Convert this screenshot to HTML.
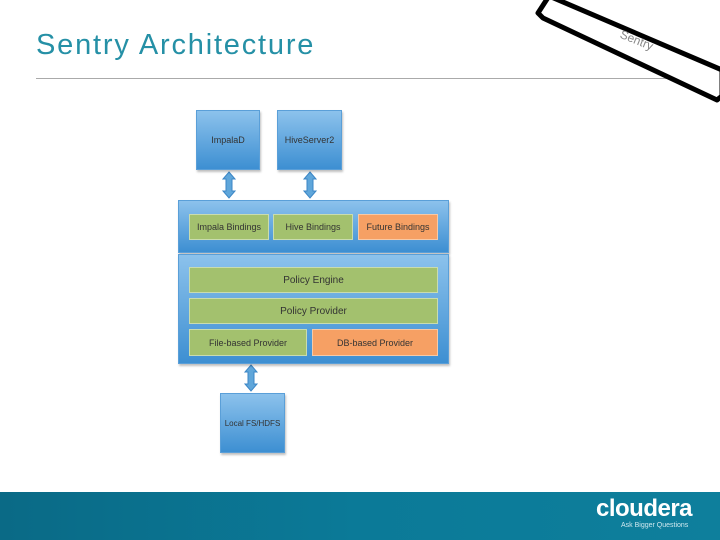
<!DOCTYPE html>
<html><head><meta charset="utf-8"><style>
body{margin:0;width:720px;height:540px;position:relative;overflow:hidden;background:#fff;font-family:"Liberation Sans",sans-serif}
.a{position:absolute;box-sizing:border-box}
.blue{background:linear-gradient(#8cc2ec,#3d8fd2);border:1px solid #5a9fd8;box-shadow:1px 2px 2px rgba(0,0,0,.25)}
.g{background:#a3c16e;border:1px solid #c9dcae;font-size:9px;color:#333;display:flex;align-items:center;justify-content:center}
.o{background:#f6a064;border:1px solid #f7c9a6;font-size:9px;color:#333;display:flex;align-items:center;justify-content:center}
.lbl{font-size:9px;color:#333;display:flex;align-items:center;justify-content:center}
</style></head><body>
<div class="a" style="left:36px;top:29px;font-size:29px;letter-spacing:1.8px;color:#2590a6">Sentry Architecture</div>
<div class="a" style="left:36px;top:78px;width:684px;height:1px;background:#aaa"></div>
<svg class="a" style="left:0;top:0" width="720" height="540">
<polygon points="549,-4 538,13 543,18 717,100 722,96 722,70" fill="#fff" stroke="#000" stroke-width="5" stroke-linejoin="round"/>
<text x="617" y="42" font-size="12" fill="#888" transform="rotate(22 630 45)" font-family="Liberation Sans">Sentry</text>
<g fill="#5fa6da" stroke="#3b86c6" stroke-width="1">
<polygon points="229,172 235,179 232,179 232,191 235,191 229,198 223,191 226,191 226,179 223,179"/>
<polygon points="310,172 316,179 313,179 313,191 316,191 310,198 304,191 307,191 307,179 304,179"/>
<polygon points="251,365 257,372 254,372 254,384 257,384 251,391 245,384 248,384 248,372 245,372"/>
</g>
</svg>
<div class="a blue lbl" style="left:196px;top:110px;width:64px;height:60px">ImpalaD</div>
<div class="a blue lbl" style="left:277px;top:110px;width:65px;height:60px">HiveServer2</div>
<div class="a blue" style="left:178px;top:200px;width:271px;height:53px"></div>
<div class="a blue" style="left:178px;top:254px;width:271px;height:110px"></div>
<div class="a g" style="left:189px;top:214px;width:80px;height:26px">Impala Bindings</div>
<div class="a g" style="left:273px;top:214px;width:80px;height:26px">Hive Bindings</div>
<div class="a o" style="left:358px;top:214px;width:80px;height:26px">Future Bindings</div>
<div class="a g" style="left:189px;top:267px;width:249px;height:26px;font-size:10px">Policy Engine</div>
<div class="a g" style="left:189px;top:298px;width:249px;height:26px;font-size:10px">Policy Provider</div>
<div class="a g" style="left:189px;top:329px;width:118px;height:27px">File-based Provider</div>
<div class="a o" style="left:312px;top:329px;width:126px;height:27px">DB-based Provider</div>
<div class="a blue lbl" style="left:220px;top:393px;width:65px;height:60px;font-size:8px">Local FS/HDFS</div>
<div class="a" style="left:0;top:492px;width:720px;height:48px;background:linear-gradient(90deg,#0a6a86,#0b7a98 50%,#0e7f9c)"></div>
<div class="a" style="left:596px;top:495px;font-size:24px;font-weight:bold;color:#fff;letter-spacing:-0.5px">cloudera</div>
<div class="a" style="left:621px;top:522px;font-size:7px;color:#cfe8ef">Ask Bigger Questions</div>
</body></html>
